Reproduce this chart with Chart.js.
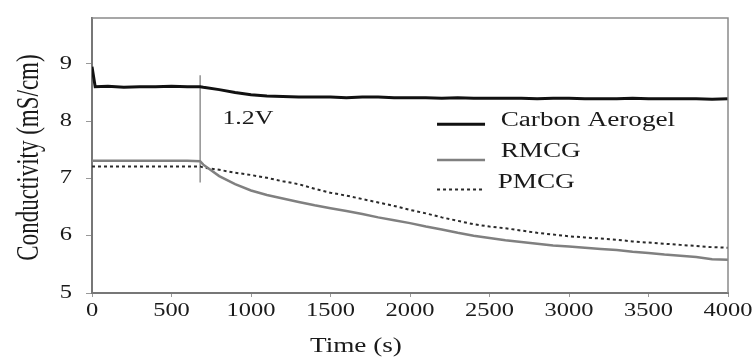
<!DOCTYPE html>
<html><head><meta charset="utf-8">
<script src="https://cdn.jsdelivr.net/npm/chart.js@4/dist/chart.umd.min.js"></script>
<style>html,body{margin:0;padding:0;background:#fff}#wrap{width:756px;height:361px;position:relative}</style>
</head><body><div id="wrap"><canvas id="c" width="756" height="361"></canvas></div>
<script>
const times = [0,20,100,200,300,400,500,600,680,700,800,900,1000,1100,1200,1300,1400,1500,1600,1700,1800,1900,2000,2100,2200,2300,2400,2500,2600,2700,2800,2900,3000,3100,3200,3300,3400,3500,3600,3700,3800,3900,4000];
const carbonAerogel = [8.95,8.6,8.61,8.59,8.6,8.6,8.61,8.6,8.6,8.59,8.55,8.5,8.46,8.44,8.43,8.42,8.42,8.42,8.41,8.42,8.42,8.41,8.41,8.41,8.4,8.41,8.4,8.4,8.4,8.4,8.39,8.4,8.4,8.39,8.39,8.39,8.4,8.39,8.39,8.39,8.39,8.38,8.39];
const rmcg = [7.31,7.31,7.31,7.31,7.31,7.31,7.31,7.31,7.3,7.24,7.04,6.9,6.79,6.71,6.65,6.59,6.53,6.48,6.43,6.38,6.32,6.27,6.22,6.16,6.11,6.05,6.0,5.96,5.92,5.89,5.86,5.83,5.81,5.79,5.77,5.75,5.72,5.7,5.67,5.65,5.63,5.59,5.58];
const pmcg = [7.21,7.21,7.21,7.21,7.21,7.21,7.21,7.21,7.21,7.19,7.15,7.1,7.06,7.01,6.95,6.9,6.82,6.75,6.7,6.64,6.58,6.52,6.45,6.39,6.32,6.26,6.2,6.16,6.13,6.09,6.05,6.02,5.99,5.97,5.95,5.93,5.9,5.88,5.86,5.84,5.82,5.8,5.79];
const markerTime = [680,680];
const markerValue = [8.8,6.93];
const seriesNames = ['Carbon Aerogel','RMCG','PMCG'];
const annotationText = '1.2V';
const xTitle = 'Time (s)';
const yTitle = 'Conductivity (mS/cm)';
const xTicks = [0,500,1000,1500,2000,2500,3000,3500,4000];
const yTicks = [5,6,7,8,9];

const serif = '"Liberation Serif","Times New Roman",serif';
const SX = 1.36; // horizontal stretch of the source lettering
const toXY = (xs, ys) => xs.map((x,i)=>({x, y: ys[i]}));

function stretchedText(ctx, text, x, y, size, align) {
  ctx.save();
  ctx.font = size + 'px ' + serif;
  const w = ctx.measureText(text).width * SX;
  let left = x;
  if (align === 'center') left = x - w/2;
  else if (align === 'right') left = x - w;
  ctx.translate(left, y);
  ctx.scale(SX, 1);
  ctx.textAlign = 'left'; ctx.textBaseline = 'middle';
  ctx.fillText(text, 0, 0);
  ctx.restore();
}

const extras = {
  id: 'extras',
  afterDraw(chart) {
    const {ctx, chartArea:a, scales:{x,y}} = chart;
    ctx.save();
    ctx.strokeStyle = '#8a8a8a'; ctx.lineWidth = 1.5;
    ctx.beginPath(); ctx.moveTo(a.left, a.top); ctx.lineTo(a.right, a.top); ctx.lineTo(a.right, a.bottom); ctx.stroke();
    ctx.fillStyle = '#1a1a1a';
    xTicks.forEach(v => stretchedText(ctx, String(v), x.getPixelForValue(v), a.bottom + 18, 18, 'center'));
    yTicks.forEach(v => stretchedText(ctx, String(v), a.left - 20, y.getPixelForValue(v), 18, 'right'));
    stretchedText(ctx, xTitle, x.getPixelForValue(1660), a.bottom + 54, 20, 'center');
    ctx.save();
    ctx.translate(30, (a.top + a.bottom) / 2 + 2);
    ctx.scale(SX, 1);
    ctx.rotate(-Math.PI/2);
    ctx.font = '23px ' + serif; ctx.textAlign = 'center'; ctx.textBaseline = 'middle';
    ctx.fillText(yTitle, 0, 0);
    ctx.restore();
    stretchedText(ctx, annotationText, x.getPixelForValue(820), y.getPixelForValue(8.04), 19, 'left');
    const ds = chart.data.datasets;
    const lx = x.getPixelForValue(2170), tx = x.getPixelForValue(2570);
    const rows = [8.0, 7.46, 6.93];
    const lineOff = [3, 8, 7];
    for (let i=0;i<3;i++) {
      const d = ds[i]; const ry = y.getPixelForValue(rows[i]);
      ctx.strokeStyle = d.borderColor; ctx.lineWidth = d.borderWidth;
      ctx.setLineDash(d.borderDash || []);
      ctx.beginPath(); ctx.moveTo(lx, ry+lineOff[i]); ctx.lineTo(lx + 48, ry+lineOff[i]); ctx.stroke();
      ctx.setLineDash([]);
      ctx.fillStyle = '#1a1a1a';
      stretchedText(ctx, d.label, tx - (i===2?3:0), ry, 20, 'left');
    }
    ctx.restore();
  }
};

new Chart(document.getElementById('c'), {
  type: 'line',
  data: {
    datasets: [
      {label: seriesNames[0], data: toXY(times, carbonAerogel), borderColor: '#111', borderWidth: 3, pointRadius: 0, tension: 0},
      {label: seriesNames[1], data: toXY(times, rmcg), borderColor: '#808080', borderWidth: 2.5, pointRadius: 0, tension: 0},
      {label: seriesNames[2], data: toXY(times, pmcg), borderColor: '#2a2a2a', borderWidth: 2, borderDash: [3,3], pointRadius: 0, tension: 0},
      {label: 'marker', data: toXY(markerTime, markerValue), borderColor: '#777', borderWidth: 1.2, pointRadius: 0}
    ]
  },
  options: {
    responsive: false, animation: false,
    layout: {padding: {left: 0, right: 28, top: 18, bottom: 0}},
    plugins: {legend: {display: false}, tooltip: {enabled: false}},
    scales: {
      x: {
        type: 'linear', min: 0, max: 4000,
        afterBuildTicks: s => { s.ticks = xTicks.map(v=>({value:v})); },
        afterFit: s => { s.height = 68; },
        grid: {display: true, drawOnChartArea: false, drawTicks: true, tickLength: 4, color: '#999'},
        border: {display: true, color: '#777', width: 2},
        ticks: {display: false},
        title: {display: false}
      },
      y: {
        min: 5, max: 9.8,
        afterBuildTicks: s => { s.ticks = yTicks.map(v=>({value:v})); },
        afterFit: s => { s.width = 92; },
        grid: {display: true, drawOnChartArea: false, drawTicks: true, tickLength: 6, color: '#999'},
        border: {display: true, color: '#777', width: 2},
        ticks: {display: false},
        title: {display: false}
      }
    }
  },
  plugins: [extras]
});
</script></body></html>
